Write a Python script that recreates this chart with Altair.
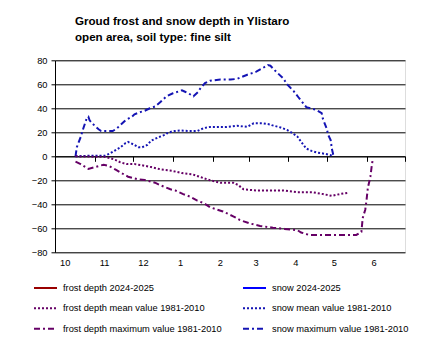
import altair as alt
import pandas as pd

# ---- data (days counted from 1 October; values in cm) ----
# legend order (Vega fills legend columns first): left column frost, right column snow
series_names = [
    "frost depth 2024-2025",
    "frost depth mean value 1981-2010",
    "frost depth maximum value 1981-2010",
    "snow 2024-2025",
    "snow mean value 1981-2010",
    "snow maximum value 1981-2010",
]
series_colors = ["#990000", "#660066", "#660066", "#0000FF", "#1414B4", "#1414B4"]
series_dashes = [[1, 0], [2, 2], [6, 3, 2, 3], [1, 0], [2, 2], [6, 3, 2, 3]]

snow_max_days = [16, 17, 20, 22, 25, 26, 27, 29, 34, 36, 40, 45, 48, 51, 55, 60, 62, 67, 70, 74,
                 78, 82, 87, 92, 99, 101, 104, 108, 112, 113, 117, 121, 129, 137, 142, 150, 157,
                 162, 166, 168, 172, 178, 181, 186, 190, 196, 201, 204, 208, 209, 212, 213, 215,
                 216, 217, 218]
snow_max_cm = [0, 7.5, 16, 23, 32.5, 33, 30, 27.5, 22.5, 21, 21, 21, 23, 26, 30, 33, 35, 37, 38, 40,
               41.5, 45, 50, 52.5, 55, 54, 52.5, 50, 54, 56, 61, 63, 64, 64, 64.5, 68, 70.5,
               73.5, 76, 75.5, 71, 65, 60, 54.5, 49, 41, 39.5, 38.5, 36, 31, 23, 18, 13.5,
               6, 1.5, 0]

snow_mean_days = [16, 27, 39, 43, 47, 51, 55, 57, 61, 65, 68, 72, 75, 81, 86, 87, 92, 98, 105, 111,
                  116, 121, 134, 142, 150, 155, 162, 168, 169, 176, 181, 185, 189, 192, 196, 200,
                  205, 211, 215, 217]
snow_mean_cm = [0, 0.5, 0.5, 2.5, 5, 7.5, 11, 12, 10, 7.5, 7.5, 9.5, 13, 16, 18, 19, 21, 21.5, 21, 21,
                23.5, 24.5, 24.5, 25.5, 24.5, 27.5, 27.5, 26.5, 26, 24, 22, 19.5, 16.5, 12, 6.5, 4.5,
                3, 2, 1, 0]

frost_mean_days = [16, 39, 43, 47, 51, 56, 62, 68, 75, 83, 91, 99, 107, 114, 121, 129, 139, 143, 147,
                   157, 178, 189, 201, 209, 216, 222, 228]
frost_mean_cm = [0, -0.5, -1.5, -3, -5, -6.5, -6.5, -7.5, -9, -11, -12, -14, -15, -17.5, -20, -22, -22,
                 -24, -27.5, -28.5, -28.5, -30, -30, -31.5, -33, -31.5, -30.5]

frost_max_days = [16, 20, 26, 31, 38, 42, 48, 52, 57, 64, 70, 78, 83, 90, 94, 100, 105, 111, 116, 121,
                  131, 139, 144, 152, 160, 170, 179, 189, 192, 198, 217, 235, 239, 240, 242, 243,
                  244, 246, 247, 248]
frost_max_cm = [-4.5, -6.5, -10.5, -9, -7, -8, -11.5, -14, -17, -19, -19.7, -22, -24.5, -27.5, -28.5,
                -31.5, -33.5, -37, -39, -42.5, -46, -50, -53, -56, -58, -59.5, -60.5, -61.5, -63.5,
                -65.5, -65.5, -65.5, -63, -51.5, -44.5, -36.5, -26.5, -17, -8.5, -1.5]

# ---- build long table ----
start = pd.Timestamp("2024-10-01")
frames = []
for name, days, vals in [
    ("snow maximum value 1981-2010", snow_max_days, snow_max_cm),
    ("snow mean value 1981-2010", snow_mean_days, snow_mean_cm),
    ("frost depth mean value 1981-2010", frost_mean_days, frost_mean_cm),
    ("frost depth maximum value 1981-2010", frost_max_days, frost_max_cm),
]:
    frames.append(pd.DataFrame({
        "series": name,
        "date": [start + pd.Timedelta(days=d) for d in days],
        "value": vals,
    }))
df = pd.concat(frames, ignore_index=True)

FONT = "Liberation Sans"

month_ticks = [alt.DateTime(year=2024, month=m, date=1) for m in (10, 11, 12)] + \
              [alt.DateTime(year=2025, month=m, date=1) for m in (1, 2, 3, 4, 5, 6, 7)]

x_axis = alt.Axis(
    values=month_ticks,
    labelExpr="month(datum.value) == 6 ? '' : month(datum.value) + 1",
    labelAlign="left", labelOffset=4.5, labelFlush=False, labelOverlap=False,
    labelBaseline="top",
    offset=-96, tickSize=5, labelPadding=97, grid=False,
    domainColor="black", tickColor="black", labelColor="black",
    labelFont=FONT, labelFontSize=9.3, title=None,
)
y_axis = alt.Axis(
    values=list(range(-80, 81, 20)), tickSize=4, labelPadding=4,
    domainColor="black", tickColor="black", gridColor="black", gridWidth=1,
    labelColor="black", labelFont=FONT, labelFontSize=9.3, title=None,
)

legend_kw = dict(
    orient="none", legendX=-22, legendY=215, columns=2,
    symbolType="stroke", symbolSize=529, symbolStrokeWidth=2,
    labelFont=FONT, labelFontSize=9.3, labelColor="black",
    labelOffset=5, columnPadding=17, rowPadding=2.5,
    labelLimit=300, title=None,
)

chart = alt.Chart(df).mark_line(strokeWidth=2).encode(
    x=alt.X("date:T", axis=x_axis,
            scale=alt.Scale(domain=[alt.DateTime(year=2024, month=10, date=1),
                                    alt.DateTime(year=2025, month=7, date=1)], nice=False)),
    y=alt.Y("value:Q", axis=y_axis, scale=alt.Scale(domain=[-80, 80], nice=False)),
    color=alt.Color("series:N",
                    scale=alt.Scale(domain=series_names, range=series_colors),
                    legend=alt.Legend(**legend_kw)),
    strokeDash=alt.StrokeDash("series:N",
                              scale=alt.Scale(domain=series_names, range=series_dashes),
                              legend=alt.Legend(**legend_kw)),
    detail="series:N",
    order="date:T",
).properties(
    width=350, height=192,
    padding={"left": 55, "top": 60.3, "right": 25, "bottom": 99.7},
    autosize=alt.AutoSizeParams(type="none"),
    title=alt.TitleParams(
        text=["Groud frost and snow depth in Ylistaro", "open area, soil type: fine silt"],
        anchor="start", frame="group", dx=20, offset=13,
        font=FONT, fontSize=11.6, fontWeight="bold", lineHeight=16, color="black"),
).configure_view(stroke="black", strokeWidth=1).configure(background="white")

chart.save("out.html", embed_options={"renderer": "svg", "actions": False})
